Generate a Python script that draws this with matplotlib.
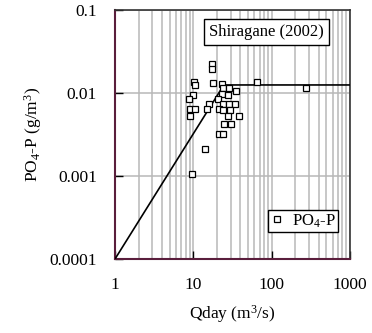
import matplotlib
matplotlib.use("Agg")
import matplotlib.pyplot as plt
import numpy as np
from matplotlib.ticker import LogLocator, FixedLocator, NullFormatter

plt.rcParams['font.family'] = ['Liberation Serif', 'DejaVu Serif']
plt.rcParams['mathtext.fontset'] = 'custom'
plt.rcParams['mathtext.rm'] = 'Liberation Serif'
plt.rcParams['mathtext.it'] = 'Liberation Serif:italic'

# observed PO4-P vs daily discharge
qday = [17.5, 17.5, 10.2, 10.6, 18.0, 23.3, 23.7, 28.3, 64.5, 34.8,
        9.8, 8.9, 23.5, 27.5, 20.5, 9.0, 10.6, 9.0, 16.0, 15.1,
        23.7, 28.3, 34.1, 21.5, 24.2, 29.4, 27.5, 38.0, 24.9, 30.3,
        21.3, 24.2, 14.1, 9.7, 275]
po4p = [0.0222, 0.0195, 0.0135, 0.0126, 0.0133, 0.0127, 0.0116, 0.0116, 0.0135, 0.0107,
        0.0095, 0.0085, 0.0097, 0.0095, 0.0084, 0.0064, 0.0064, 0.0053, 0.0073, 0.0064,
        0.0073, 0.0073, 0.0073, 0.0064, 0.0063, 0.0062, 0.0053, 0.0053, 0.0042, 0.0042,
        0.0032, 0.0032, 0.0021, 0.00105, 0.0114]

# fitted curve: power law with an upper cap
curve_q = [1, 24.5, 1000]
curve_c = [0.0001, 0.0125, 0.0125]

fig = plt.figure(figsize=(3.72, 3.33), dpi=100)
ax = fig.add_axes([115/372, 1-259/333, 235/372, 249/333])

ax.plot(curve_q, curve_c, color='black', lw=1.2, zorder=3)
ax.plot(qday, po4p, 's', ms=5, mfc='white', mec='black', mew=0.9,
        label='PO$_4$-P', zorder=4)

ax.set_xscale('log')
ax.set_yscale('log')
ax.set_xlim(1, 1000)
ax.set_ylim(0.0001, 0.1)

ax.xaxis.set_major_locator(FixedLocator([1, 10, 100, 1000]))
ax.xaxis.set_minor_locator(LogLocator(base=10, subs=np.arange(2, 10)))
ax.xaxis.set_minor_formatter(NullFormatter())
ax.set_xticklabels(['1', '10', '100', '1000'])
ax.yaxis.set_major_locator(FixedLocator([0.0001, 0.001, 0.01, 0.1]))
ax.yaxis.set_minor_locator(FixedLocator([]))
ax.set_yticklabels(['0.0001', '0.001', '0.01', '0.1'])

ax.grid(True, which='both', axis='x', color='#b8b8b8', lw=1.1)
ax.grid(True, which='major', axis='y', color='#b8b8b8', lw=1.1)
ax.set_axisbelow(True)

ax.tick_params(which='major', direction='in', length=6, width=1, labelsize=12.5, pad=13)
ax.tick_params(which='minor', length=0)

for side in ['left', 'bottom']:
    ax.spines[side].set_color('#5a1e3c')
    ax.spines[side].set_linewidth(1.5)
for side in ['top', 'right']:
    ax.spines[side].set_color('#333333')
    ax.spines[side].set_linewidth(1.2)

ax.set_xlabel('Qday (m$^3$/s)', fontsize=12.5, labelpad=7)
ax.set_ylabel('PO$_4$-P (g/m$^3$)', fontsize=12.5, labelpad=4)

ax.text(0.645, 0.912, 'Shiragane (2002)', transform=ax.transAxes, fontsize=12,
        ha='center', va='center',
        bbox=dict(boxstyle='square,pad=0.3', fc='white', ec='black', lw=1))

leg = ax.legend(loc='lower right', bbox_to_anchor=(0.949, 0.108), fontsize=12,
                frameon=True, fancybox=False, handlelength=0.8, handletextpad=0.5,
                borderpad=0.15, borderaxespad=0)
leg.get_frame().set_edgecolor('black')
leg.get_frame().set_linewidth(1)
leg.get_frame().set_alpha(1)

fig.savefig('out.png', dpi=100)
